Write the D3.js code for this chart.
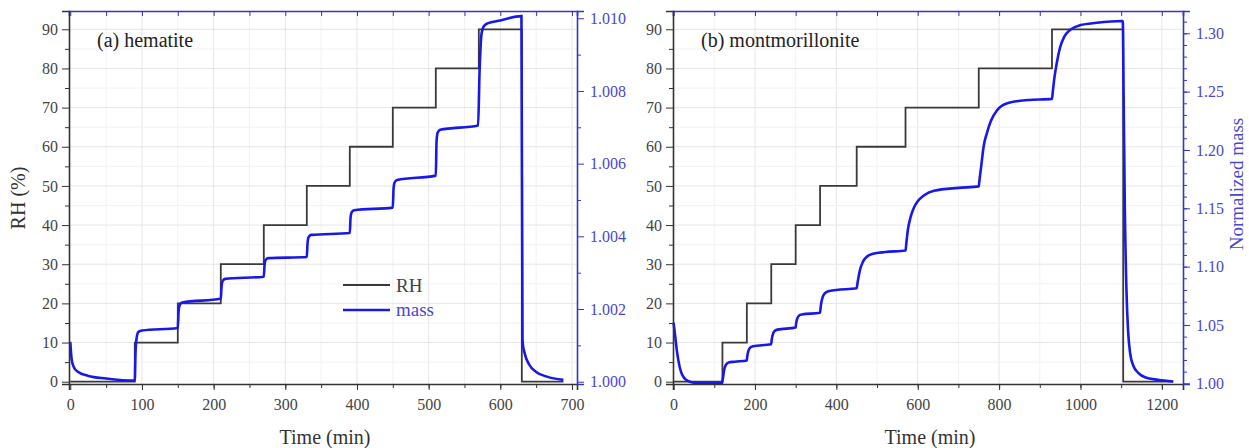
<!DOCTYPE html>
<html>
<head>
<meta charset="utf-8">
<script src="https://cdn.jsdelivr.net/npm/d3@7"></script>
<style>
  body { margin: 0; background: #fff; }
  svg text { font-family: "Liberation Serif", "DejaVu Serif", serif; }
</style>
</head>
<body>
<div id="chart"></div>
<script>
// RH set-point steps (step starts, level held until next start)
var hemRhStart = [0, 90, 150, 210, 270, 330, 390, 450, 510, 570, 630, 688];
var hemRhLevel = [0, 10, 20, 30, 40, 50, 60, 70, 80, 90, 0, 0];
var monRhStart = [0, 120, 180, 240, 300, 360, 450, 570, 750, 930, 1105, 1228];
var monRhLevel = [0, 10, 20, 30, 40, 50, 60, 70, 80, 90, 0, 0];

// normalized mass, hematite
var hemMassTime = [0, 2, 5, 10, 25, 50, 89,
  90, 91, 92.5, 95, 100, 150,
  151, 152.5, 156, 210,
  211, 212.5, 216, 270,
  271, 272.5, 276, 330,
  331, 332.5, 336, 390,
  391, 392.5, 396, 450,
  451, 452.5, 456, 510,
  511, 512.5, 516, 569,
  571, 574, 577, 582, 600, 629.5,
  631, 634, 640, 650, 665, 688];
var hemMassValue = [1.0011, 1.0006, 1.0004, 1.00028, 1.00016, 1.00009, 1.00003,
  1.00003, 1.0008, 1.0012, 1.00137, 1.00141, 1.00148,
  1.0019, 1.0021, 1.00218, 1.00228,
  1.0026, 1.00277, 1.00283, 1.00289,
  1.0032, 1.00335, 1.0034, 1.00343,
  1.0038, 1.00398, 1.00404, 1.00409,
  1.0045, 1.00466, 1.00472, 1.00479,
  1.0053, 1.00548, 1.00555, 1.00567,
  1.0066, 1.00685, 1.00693, 1.00705,
  1.0085, 1.0096, 1.00978, 1.00986, 1.00994, 1.01006,
  1.0011, 1.00078, 1.00048, 1.00027, 1.00014, 1.00005];

// normalized mass, montmorillonite
var monMassTime = [0, 4, 8, 12, 18, 25, 35, 50, 80, 119,
  121, 124, 128, 135, 150, 180,
  181, 184, 188, 195, 240,
  241, 244, 248, 255, 300,
  301, 304, 308, 315, 360,
  361, 364, 370, 380, 400, 450,
  452, 458, 465, 475, 490, 520, 570,
  572, 576, 583, 590, 600, 615, 640, 700, 750,
  752, 756, 762, 770, 780, 795, 820, 870, 930,
  932, 936, 942, 950, 960, 975, 1000, 1040, 1104,
  1106, 1109, 1113, 1117, 1122, 1130, 1142, 1160, 1190, 1228];
var monMassValue = [1.052, 1.040, 1.028, 1.019, 1.010, 1.005, 1.002, 1.0005, 1.0, 1.0,
  1.004, 1.011, 1.0155, 1.0178, 1.0185, 1.0195,
  1.023, 1.028, 1.0305, 1.0318, 1.0335,
  1.037, 1.042, 1.0447, 1.046, 1.0478,
  1.051, 1.0555, 1.058, 1.059, 1.0605,
  1.064, 1.071, 1.0765, 1.079, 1.080, 1.0814,
  1.086, 1.097, 1.104, 1.1085, 1.111, 1.1125, 1.1138,
  1.120, 1.132, 1.143, 1.150, 1.156, 1.161, 1.165, 1.1675, 1.1688,
  1.175, 1.186, 1.203, 1.2145, 1.225, 1.234, 1.240, 1.2428, 1.2438,
  1.250, 1.262, 1.275, 1.288, 1.297, 1.303, 1.307, 1.309, 1.3105,
  1.25, 1.15, 1.08, 1.045, 1.026, 1.015, 1.009, 1.005, 1.003, 1.0015];

// axis ticks
var rhTicks = [0, 10, 20, 30, 40, 50, 60, 70, 80, 90];
var hemTimeTicks = [0, 100, 200, 300, 400, 500, 600, 700];
var monTimeTicks = [0, 200, 400, 600, 800, 1000, 1200];
var hemMassTicks = [1.000, 1.002, 1.004, 1.006, 1.008, 1.010];
var monMassTicks = [1.00, 1.05, 1.10, 1.15, 1.20, 1.25, 1.30];

var W = 1249, H = 448;
var BLUE = "#1818e8", AXBLUE = "#3535c8", TXTBLUE = "#4848cc";

var svg = d3.select("#chart").append("svg").attr("width", W).attr("height", H);

function range(a, b, s) {
  var out = [];
  for (var v = a; v <= b + s * 1e-6; v += s) out.push(+v.toFixed(6));
  return out;
}

function panel(opt) {
  var g = svg.append("g");
  var x = d3.scaleLinear().domain(opt.xDomain).range([opt.left, opt.right]);
  var y = d3.scaleLinear().domain([-0.59, 94.67]).range([384, 11]);
  var ym = d3.scaleLinear().domain(opt.mDomain).range([384, 11]);

  // grid
  var grid = g.append("g");
  range(opt.xMinorStep, opt.xDomain[1], opt.xMinorStep).forEach(function(v) {
    grid.append("line").attr("x1", x(v)).attr("x2", x(v)).attr("y1", 11).attr("y2", 384)
      .attr("stroke", opt.xTicks.indexOf(v) >= 0 ? "#e6e6e6" : "#f2f2f2").attr("stroke-width", 1);
  });
  range(5, 90, 5).forEach(function(v) {
    grid.append("line").attr("x1", opt.left).attr("x2", opt.right).attr("y1", y(v)).attr("y2", y(v))
      .attr("stroke", v % 10 === 0 ? "#e6e6e6" : "#f2f2f2").attr("stroke-width", 1);
  });

  // RH line
  var rhPts = opt.rhStart.map(function(t, i) { return [t, opt.rhLevel[i]]; });
  g.append("path").datum(rhPts)
    .attr("d", d3.line().x(function(d) { return x(d[0]); }).y(function(d) { return y(d[1]); }).curve(d3.curveStepAfter))
    .attr("fill", "none").attr("stroke", "#3a3a3a").attr("stroke-width", 1.8);

  // mass line
  var mPts = opt.mTime.map(function(t, i) { return [t, opt.mValue[i]]; });
  g.append("path").datum(mPts)
    .attr("d", d3.line().x(function(d) { return x(d[0]); }).y(function(d) { return ym(d[1]); }).curve(d3.curveMonotoneX))
    .attr("fill", "none").attr("stroke", BLUE).attr("stroke-width", 2.6);

  // bottom axis
  var bx = g.append("g").attr("transform", "translate(0,384)");
  bx.call(d3.axisBottom(x).tickValues(opt.xTicks).tickSize(6).tickPadding(9).tickFormat(d3.format("d")));
  bx.append("g").call(d3.axisBottom(x).tickValues(range(opt.xMinorStep, opt.xDomain[1], opt.xMinorStep)).tickSize(4).tickFormat(""))
    .select(".domain").remove();
  // top axis (inward ticks)
  var tx = g.append("g").attr("transform", "translate(0,11)");
  tx.call(d3.axisBottom(x).tickValues(range(0, opt.xDomain[1], opt.xMinorStep)).tickSize(5).tickFormat(""));
  tx.selectAll("line, path").attr("stroke", AXBLUE);
  tx.select(".domain").attr("stroke-width", 1.6);

  // left axis
  var lx = g.append("g").attr("transform", "translate(" + opt.left + ",0)");
  lx.call(d3.axisLeft(y).tickValues(rhTicks).tickSize(7).tickPadding(4));
  lx.append("g").call(d3.axisLeft(y).tickValues(range(5, 90, 10)).tickSize(4).tickFormat(""))
    .select(".domain").remove();

  // right axis
  var rx = g.append("g").attr("transform", "translate(" + opt.right + ",0)");
  rx.call(d3.axisRight(ym).tickValues(opt.mTicks).tickSize(7).tickPadding(6).tickFormat(d3.format(opt.mFormat)));
  rx.append("g").call(d3.axisRight(ym).tickValues(opt.mMinor).tickSize(4).tickFormat(""))
    .select(".domain").remove();
  rx.selectAll("line, path").attr("stroke", AXBLUE);
  rx.select(".domain").attr("stroke-width", 1.6);
  rx.selectAll("text").attr("fill", TXTBLUE);

  [bx, lx].forEach(function(a) {
    a.selectAll("line, path").attr("stroke", "#333");
    a.select(".domain").attr("stroke-width", 1.6);
    a.selectAll("text").attr("fill", "#444");
  });
  g.selectAll(".tick text").attr("font-size", 16).attr("font-family", "Liberation Serif, serif");

  // panel label
  g.append("text").attr("x", opt.left + 28).attr("y", 47).attr("font-size", 20).attr("fill", "#222")
    .text(opt.label);

  // x title
  g.append("text").attr("x", (opt.left + opt.right) / 2 + 2).attr("y", 444).attr("text-anchor", "middle")
    .attr("font-size", 20).attr("fill", "#333").text("Time (min)");
  return { x: x, y: y };
}

panel({
  left: 69, right: 577, xDomain: [-1.8, 707], xTicks: hemTimeTicks, xMinorStep: 50,
  mDomain: [0.999937, 1.0102], mTicks: hemMassTicks, mMinor: range(1.001, 1.009, 0.002), mFormat: ".3f",
  rhStart: hemRhStart, rhLevel: hemRhLevel, mTime: hemMassTime, mValue: hemMassValue,
  label: "(a) hematite"
});

panel({
  left: 673, right: 1183, xDomain: [-1.5, 1252], xTicks: monTimeTicks, xMinorStep: 100,
  mDomain: [0.9994, 1.3191], mTicks: monMassTicks, mMinor: range(1.01, 1.31, 0.01), mFormat: ".2f",
  rhStart: monRhStart, rhLevel: monRhLevel, mTime: monMassTime, mValue: monMassValue,
  label: "(b) montmorillonite"
});

// axis titles
svg.append("text").attr("transform", "translate(25,198) rotate(-90)").attr("text-anchor", "middle")
  .attr("font-size", 20).attr("fill", "#333").text("RH (%)");
svg.append("text").attr("transform", "translate(1243,184) rotate(-90)").attr("text-anchor", "middle")
  .attr("font-size", 19).attr("fill", TXTBLUE).text("Normalized mass");

// legend
var leg = svg.append("g");
leg.append("line").attr("x1", 343).attr("x2", 390).attr("y1", 285).attr("y2", 285)
  .attr("stroke", "#3a3a3a").attr("stroke-width", 1.8);
leg.append("text").attr("x", 396).attr("y", 292).attr("font-size", 19).attr("fill", "#444").text("RH");
leg.append("line").attr("x1", 343).attr("x2", 390).attr("y1", 310).attr("y2", 310)
  .attr("stroke", BLUE).attr("stroke-width", 2.6);
leg.append("text").attr("x", 396).attr("y", 316).attr("font-size", 19).attr("fill", TXTBLUE).text("mass");
</script>
</body>
</html>
